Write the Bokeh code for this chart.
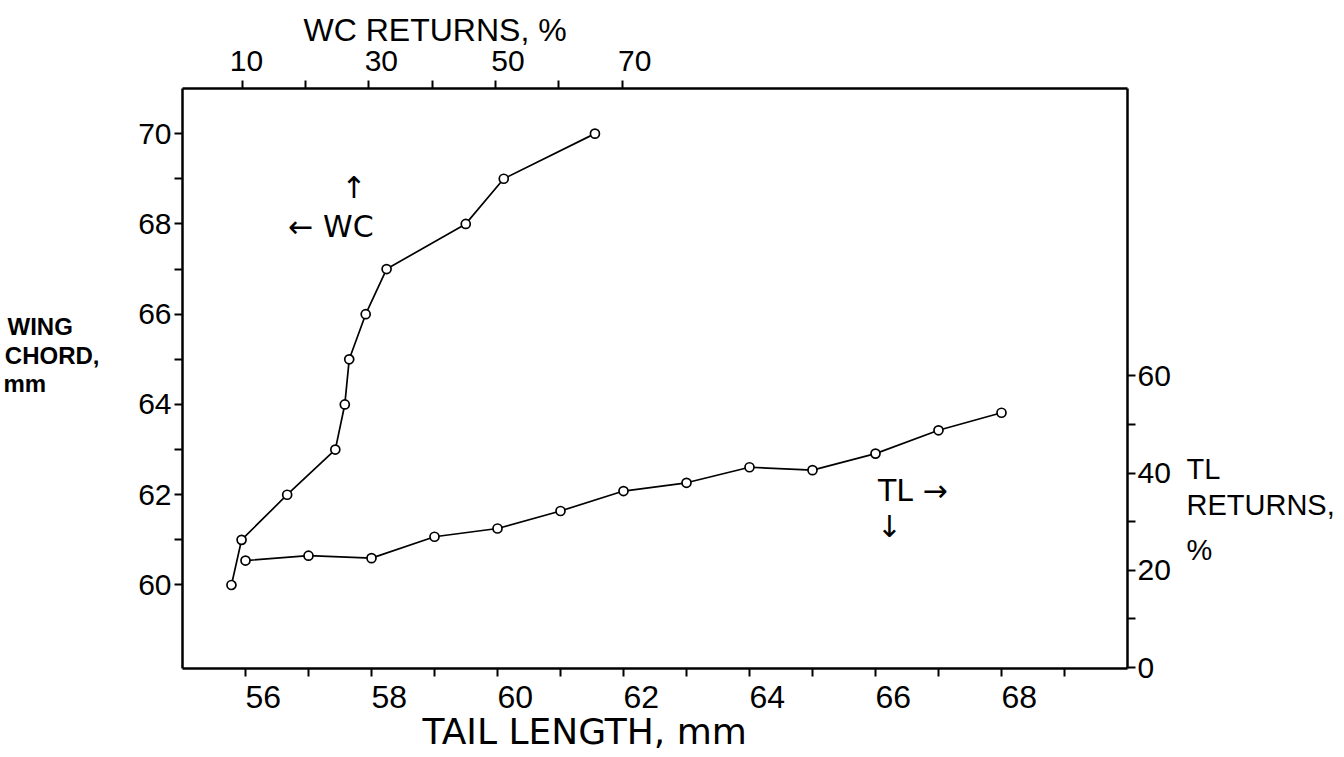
from bokeh.plotting import figure
from bokeh.models import Range1d, LinearAxis, FixedTicker, Label, Title
from bokeh.embed import file_html
from bokeh.resources import INLINE

# ---- data ----
tail_length = [56, 57, 58, 59, 60, 61, 62, 63, 64, 65, 66, 67, 68]
tl_returns = [22.0, 23.0, 22.5, 26.9, 28.6, 32.2, 36.3, 38.0, 41.2, 40.6, 44.0, 48.8, 52.4]

wing_chord = [60, 61, 62, 63, 64, 65, 66, 67, 68, 69, 70]
wc_returns = [8.3, 9.9, 17.1, 24.7, 26.2, 26.9, 29.5, 32.8, 45.3, 51.3, 65.7]

bottom_ticks = [56, 58, 60, 62, 64, 66, 68]
bottom_minor = [57, 59, 61, 63, 65, 67, 69]
left_ticks = [60, 62, 64, 66, 68, 70]
left_minor = [61, 63, 65, 67, 69]
top_ticks = [10, 30, 50, 70]
top_minor = [20, 40, 60]
right_ticks = [0, 20, 40, 60]
right_minor = [10, 30, 50]

# axis-title lines (text) and where they sit along their axes
left_title_lines = ["WING", "CHORD,", "mm"]
left_title_at = [65.72, 65.08, 64.46]          # wing-chord units
right_title_lines = ["TL", "RETURNS,", "%"]
right_title_at = [40.8, 33.4, 24.2]            # TL-returns units

FONT = "Liberation Sans"
WIDE_FONT = "DejaVu Sans"
INK = "black"
NBSP = "\u00a0"

p = figure(width=1344, height=757, output_backend="svg", toolbar_location=None,
           x_range=Range1d(55, 70), y_range=Range1d(58.15, 71.0),
           min_border_left=182, min_border_right=217, min_border_top=88,
           min_border_bottom=89)
p.extra_x_ranges = {"wc": Range1d(0.57, 149.8)}
p.extra_y_ranges = {"tl": Range1d(-0.2, 119.1)}
p.grid.visible = False
p.outline_line_color = None
p.background_fill_color = "white"
p.border_fill_color = "white"

bottom_axis = p.below[0]
left_axis = p.left[0]
top_axis = LinearAxis(x_range_name="wc")
right_axis = LinearAxis(y_range_name="tl")
p.add_layout(top_axis, "above")
p.add_layout(right_axis, "right")


def style(ax, major, minor, standoff, size="30px"):
    ax.ticker = FixedTicker(ticks=major, minor_ticks=minor)
    ax.axis_line_color = INK
    ax.axis_line_width = 2.5
    ax.major_tick_line_color = INK
    ax.minor_tick_line_color = INK
    ax.major_tick_line_width = 2
    ax.minor_tick_line_width = 2
    ax.major_tick_in = 0
    ax.major_tick_out = 8
    ax.minor_tick_in = 0
    ax.minor_tick_out = 8
    ax.major_label_text_font = FONT
    ax.major_label_text_font_size = size
    ax.major_label_text_color = INK
    ax.major_label_standoff = standoff


style(bottom_axis, bottom_ticks, bottom_minor, 2, "32px")
style(left_axis, left_ticks, left_minor, 3)
style(top_axis, top_ticks, top_minor, 4)
style(right_axis, right_ticks, right_minor, 2)

# the printed tick numbers sit just right of their ticks: lead them with
# no-break spaces so the centred labels shift right
top_lead = {10: 1, 30: 3, 50: 3, 70: 3}
bottom_lead = 4
top_axis.major_label_overrides = {t: NBSP * top_lead[t] + str(t) for t in top_ticks}
bottom_axis.major_label_overrides = {t: NBSP * bottom_lead + str(t) for t in bottom_ticks}


def text_axis(ax, positions, lines, standoff, size, bold=False):
    ax.ticker = FixedTicker(ticks=positions, minor_ticks=[])
    ax.major_label_overrides = {pos: t for pos, t in zip(positions, lines)}
    ax.axis_line_color = None
    ax.major_tick_line_color = None
    ax.minor_tick_line_color = None
    ax.major_tick_out = 0
    ax.major_tick_in = 0
    ax.major_label_standoff = standoff
    ax.major_label_text_font = FONT
    ax.major_label_text_font_size = size
    ax.major_label_text_font_style = "bold" if bold else "normal"
    ax.major_label_text_color = INK


# left title: right-aligned by the axis, padded so lines start together
pad = {"WING": 4, "CHORD,": 0, "mm": 8}
left_text_axis = LinearAxis()
text_axis(left_text_axis, left_title_at,
          [t + NBSP * pad.get(t, 0) for t in left_title_lines], 36, "24px", bold=True)
p.add_layout(left_text_axis, "left")

right_text_axis = LinearAxis(y_range_name="tl")
text_axis(right_text_axis, right_title_at, right_title_lines, 13, "29px")
p.add_layout(right_text_axis, "right")

p.add_layout(Title(text="WC RETURNS, %", align="left", offset=121, standoff=-14,
                   text_font=FONT, text_font_size="32px", text_font_style="normal",
                   text_color=INK), "above")
p.add_layout(Title(text="TAIL LENGTH, mm", align="left", offset=240, standoff=-18,
                   text_font=WIDE_FONT, text_font_size="36px", text_font_style="normal",
                   text_color=INK), "below")

# series
p.line(wc_returns, wing_chord, x_range_name="wc", line_color=INK, line_width=1.7)
p.scatter(wc_returns, wing_chord, x_range_name="wc", marker="circle", size=9,
          fill_color="white", line_color=INK, line_width=1.7)
p.line(tail_length, tl_returns, y_range_name="tl", line_color=INK, line_width=1.7)
p.scatter(tail_length, tl_returns, y_range_name="tl", marker="circle", size=9,
          fill_color="white", line_color=INK, line_width=1.7)


# in-plot annotations (positions in tail-length / wing-chord units)
def lab(x, y, t, size="28px", align="left"):
    p.add_layout(Label(x=x, y=y, text=t, text_font=WIDE_FONT, text_font_size=size,
                       text_color=INK, text_align=align, text_baseline="alphabetic"))


lab(56.68, 67.94, "\u2190 WC", "30px")
lab(57.72, 68.80, "\u2191", "30px", "center")
lab(66.04, 62.10, "TL \u2192", "30px")
lab(66.22, 61.30, "\u2193", "30px", "center")

open("out.html", "w").write(file_html(p, INLINE))
